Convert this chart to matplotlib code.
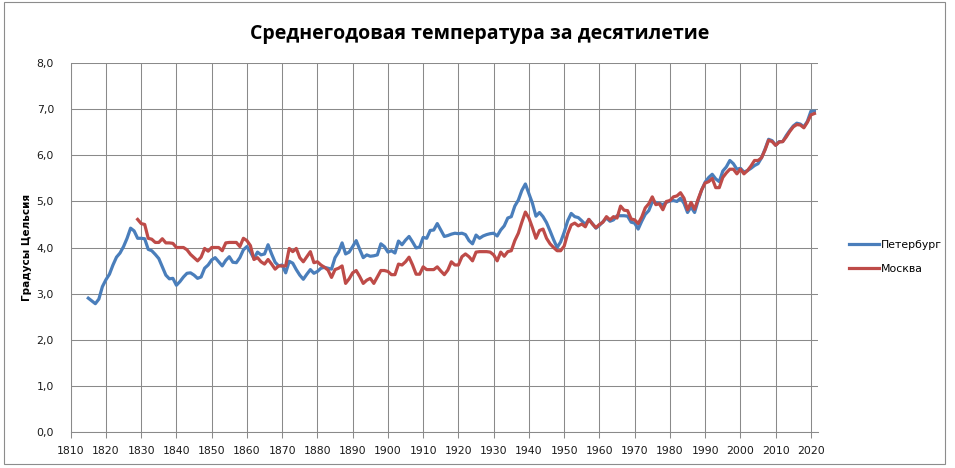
import matplotlib
matplotlib.use("Agg")
import matplotlib.pyplot as plt
from matplotlib.patches import Rectangle
from matplotlib.ticker import FuncFormatter, MultipleLocator

# Петербург, 1815-2021
spb_start = 1815
spb_values = [
    2.90, 2.84, 2.78, 2.88, 3.15, 3.30, 3.42, 3.62, 3.79, 3.88,   # 1815-1824
    4.02, 4.20, 4.42, 4.36, 4.20, 4.20, 4.19, 3.96, 3.93, 3.85,   # 1825-1834
    3.76, 3.58, 3.40, 3.32, 3.33, 3.18, 3.26, 3.36, 3.44, 3.45,   # 1835-1844
    3.40, 3.33, 3.36, 3.55, 3.62, 3.73, 3.78, 3.69, 3.60, 3.72,   # 1845-1854
    3.80, 3.68, 3.67, 3.78, 3.95, 4.02, 3.90, 3.76, 3.90, 3.84,   # 1855-1864
    3.86, 4.06, 3.86, 3.68, 3.60, 3.62, 3.45, 3.70, 3.66, 3.52,   # 1865-1874
    3.40, 3.31, 3.42, 3.52, 3.44, 3.48, 3.55, 3.57, 3.55, 3.53,   # 1875-1884
    3.78, 3.90, 4.10, 3.86, 3.90, 4.02, 4.15, 3.96, 3.78, 3.84,   # 1885-1894
    3.81, 3.82, 3.84, 4.08, 4.02, 3.90, 3.93, 3.88, 4.14, 4.06,   # 1895-1904
    4.16, 4.24, 4.12, 3.99, 4.01, 4.22, 4.20, 4.37, 4.38, 4.52,   # 1905-1914
    4.38, 4.24, 4.26, 4.29, 4.31, 4.30, 4.31, 4.28, 4.15, 4.08,   # 1915-1924
    4.27, 4.20, 4.25, 4.28, 4.30, 4.31, 4.25, 4.38, 4.47, 4.64,   # 1925-1934
    4.67, 4.90, 5.03, 5.24, 5.38, 5.17, 4.96, 4.68, 4.76, 4.67,   # 1935-1944
    4.54, 4.36, 4.17, 4.00, 4.12, 4.33, 4.58, 4.74, 4.67, 4.65,   # 1945-1954
    4.58, 4.50, 4.61, 4.52, 4.42, 4.48, 4.56, 4.64, 4.57, 4.60,   # 1955-1964
    4.69, 4.69, 4.69, 4.68, 4.55, 4.53, 4.40, 4.57, 4.72, 4.80,   # 1965-1974
    4.99, 4.98, 4.96, 4.93, 4.98, 5.01, 5.02, 5.00, 5.07, 4.96,   # 1975-1984
    4.76, 4.88, 4.76, 5.02, 5.25, 5.42, 5.52, 5.59, 5.49, 5.43,   # 1985-1994
    5.66, 5.75, 5.89, 5.82, 5.70, 5.72, 5.64, 5.67, 5.72, 5.78,   # 1995-2004
    5.82, 5.95, 6.14, 6.35, 6.32, 6.22, 6.30, 6.30, 6.43, 6.54,   # 2005-2014
    6.64, 6.70, 6.68, 6.62, 6.74, 6.96, 6.96,                     # 2015-2021
]

# Москва, 1829-2021
msk_start = 1829
msk_values = [
    4.61, 4.52, 4.50, 4.20, 4.18, 4.11,                           # 1829-1834
    4.11, 4.19, 4.10, 4.10, 4.09, 4.00, 4.00, 4.00, 3.95, 3.85,   # 1835-1844
    3.78, 3.71, 3.79, 3.98, 3.92, 4.00, 4.00, 4.00, 3.93, 4.10,   # 1845-1854
    4.11, 4.11, 4.11, 4.02, 4.20, 4.15, 4.04, 3.74, 3.78, 3.69,   # 1855-1864
    3.64, 3.74, 3.64, 3.53, 3.60, 3.60, 3.60, 3.98, 3.91, 3.98,   # 1865-1874
    3.78, 3.69, 3.80, 3.91, 3.67, 3.69, 3.62, 3.57, 3.51, 3.35,   # 1875-1884
    3.52, 3.55, 3.60, 3.22, 3.32, 3.45, 3.50, 3.37, 3.22, 3.29,   # 1885-1894
    3.33, 3.22, 3.36, 3.50, 3.50, 3.48, 3.41, 3.41, 3.64, 3.62,   # 1895-1904
    3.69, 3.79, 3.62, 3.42, 3.42, 3.58, 3.52, 3.52, 3.52, 3.58,   # 1905-1914
    3.49, 3.41, 3.51, 3.69, 3.62, 3.62, 3.80, 3.86, 3.80, 3.71,   # 1915-1924
    3.90, 3.91, 3.91, 3.91, 3.90, 3.84, 3.71, 3.90, 3.81, 3.91,   # 1925-1934
    3.93, 4.15, 4.31, 4.55, 4.77, 4.64, 4.43, 4.20, 4.37, 4.40,   # 1935-1944
    4.20, 4.08, 4.00, 3.93, 3.93, 4.03, 4.30, 4.49, 4.53, 4.47,   # 1945-1954
    4.51, 4.45, 4.61, 4.51, 4.43, 4.50, 4.55, 4.67, 4.60, 4.67,   # 1955-1964
    4.64, 4.90, 4.81, 4.80, 4.62, 4.60, 4.52, 4.66, 4.86, 4.95,   # 1965-1974
    5.10, 4.93, 4.95, 4.82, 5.00, 5.02, 5.10, 5.12, 5.19, 5.07,   # 1975-1984
    4.82, 4.98, 4.83, 5.05, 5.25, 5.40, 5.43, 5.50, 5.30, 5.30,   # 1985-1994
    5.52, 5.62, 5.70, 5.70, 5.60, 5.70, 5.60, 5.67, 5.77, 5.89,   # 1995-2004
    5.89, 5.95, 6.12, 6.33, 6.30, 6.22, 6.29, 6.30, 6.40, 6.52,   # 2005-2014
    6.62, 6.67, 6.66, 6.60, 6.72, 6.88, 6.91,                     # 2015-2021
]

spb_years = list(range(spb_start, spb_start + len(spb_values)))
msk_years = list(range(msk_start, msk_start + len(msk_values)))

title = "Среднегодовая температура за десятилетие"
ylabel = "Градусы Цельсия"
labels = ["Петербург", "Москва"]
colors = ["#4A7EBB", "#BE4B48"]

plt.rcParams["font.family"] = ["DejaVu Sans"]

fig = plt.figure(figsize=(9.55, 4.68), dpi=100)
ax = fig.add_axes([0.074, 0.0776, 0.7825, 0.7871])

# рамка диаграммы
fig.patches.append(Rectangle((4 / 955, 1 - 464 / 468), 941 / 955, 462 / 468,
                             transform=fig.transFigure, fill=False,
                             edgecolor="#8C8C8C", linewidth=0.8))

ax.plot(spb_years, spb_values, color=colors[0], lw=2.3, label=labels[0],
        solid_joinstyle="round", zorder=3)
ax.plot(msk_years, msk_values, color=colors[1], lw=2.3, label=labels[1],
        solid_joinstyle="round", zorder=4)

ax.set_xlim(1810, 2022)
ax.set_ylim(0, 8)
ax.xaxis.set_major_locator(MultipleLocator(10))
ax.yaxis.set_major_locator(MultipleLocator(1))
ax.yaxis.set_major_formatter(FuncFormatter(lambda v, p: ("%.1f" % v).replace(".", ",")))

ax.grid(True, color="#8A8A8A", linewidth=0.75)
ax.set_axisbelow(True)
for s in ["top", "right"]:
    ax.spines[s].set_visible(False)
for s in ["left", "bottom"]:
    ax.spines[s].set_color("#8A8A8A")
    ax.spines[s].set_linewidth(0.75)

ax.tick_params(axis="x", length=4, width=0.75, color="#8A8A8A", labelsize=7.8, pad=6,
               labelcolor="#1a1a1a")
ax.tick_params(axis="y", length=0, labelsize=7.8, pad=12, labelcolor="#1a1a1a")

ax.set_ylabel(ylabel, fontsize=7.5, fontweight="bold", labelpad=3)

fig.text(0.5025, 1 - 34 / 468, title, ha="center", va="center",
         fontsize=14, fontweight="bold", family=["Open Sans", "DejaVu Sans"])

fig.legend(loc="center left", bbox_to_anchor=(839 / 955, 1 - 257 / 468),
           frameon=False, fontsize=7.8, handlelength=2.8, handletextpad=0.2,
           labelspacing=1.3)

fig.savefig("out.png", dpi=100)
